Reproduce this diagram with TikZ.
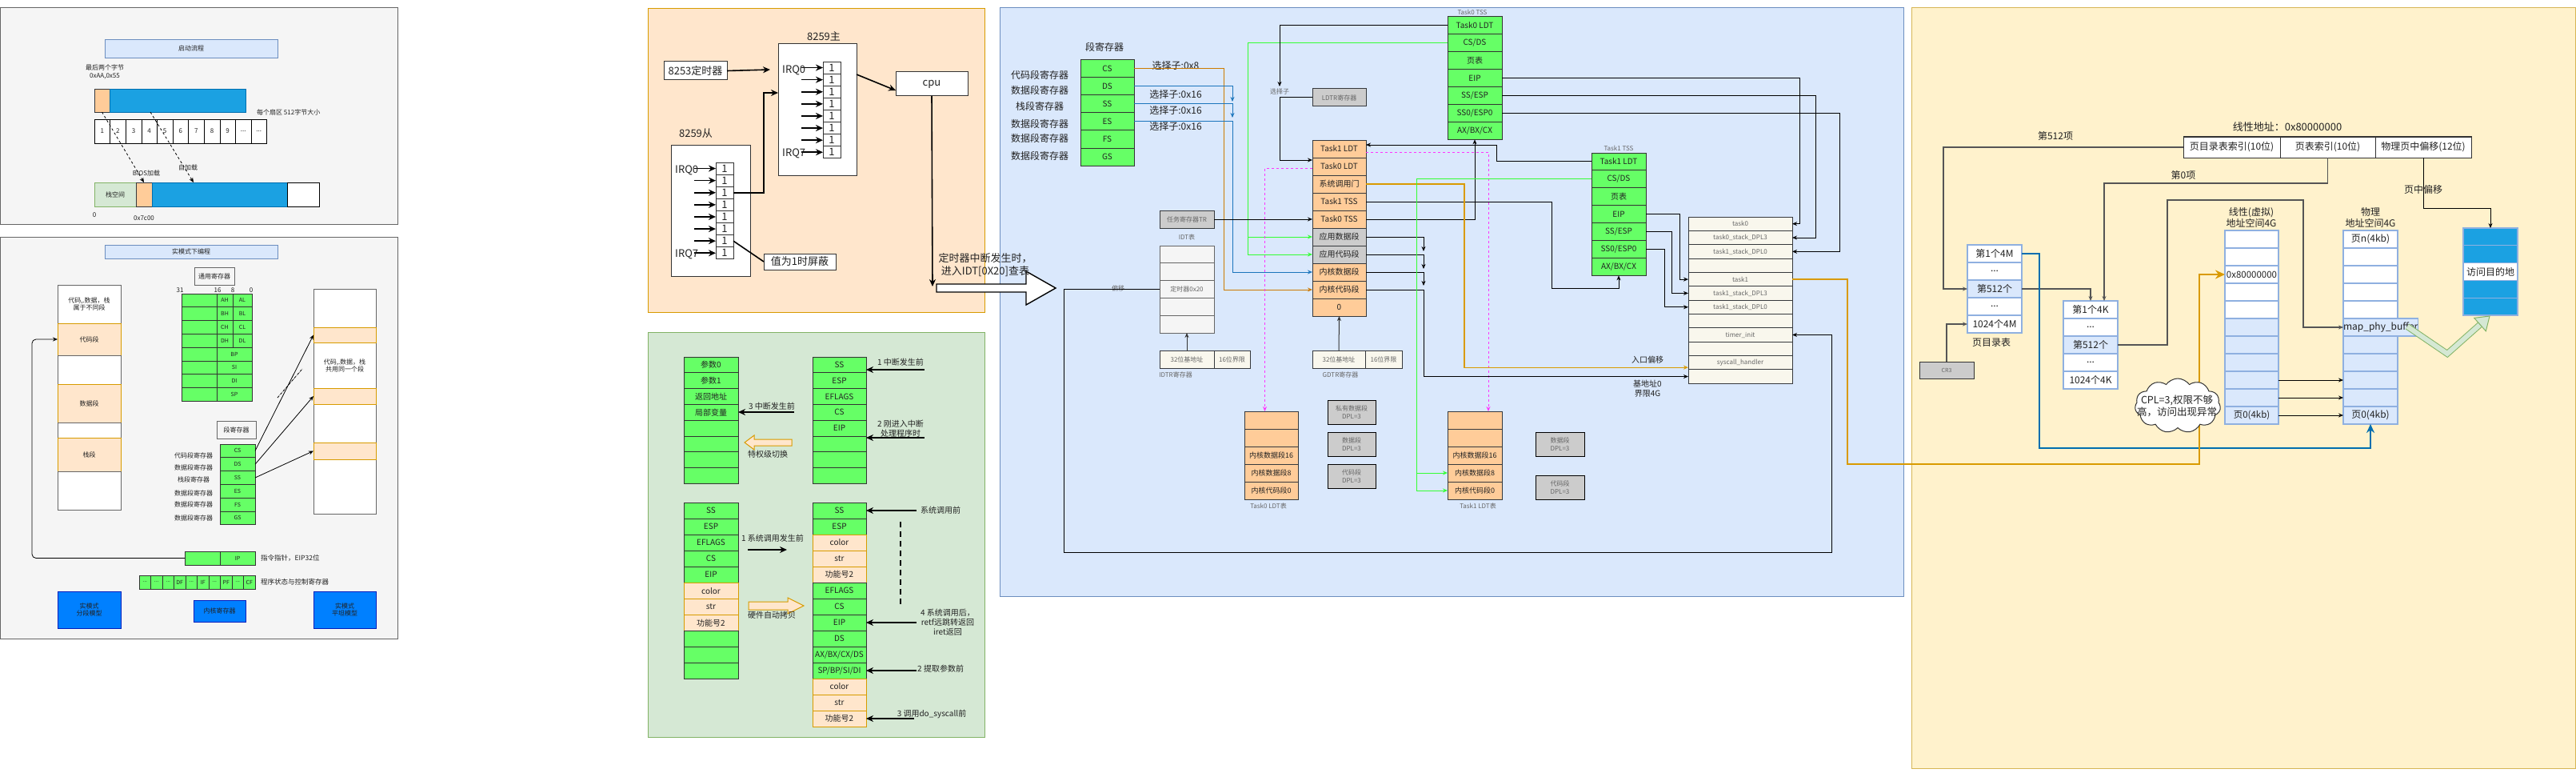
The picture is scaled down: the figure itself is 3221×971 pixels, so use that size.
\documentclass[tikz,border=0pt]{standalone}
\usepackage{fontspec}
\setmainfont{Noto Sans CJK SC}
\usetikzlibrary{arrows.meta, positioning, shapes.symbols}
\definecolor{panelGray}{HTML}{F5F5F5}
\definecolor{panelLine}{HTML}{666666}
\definecolor{titleFill}{HTML}{DAE8FC}
\definecolor{titleLine}{HTML}{6C8EBF}
\definecolor{skyBlue}{HTML}{1BA1E2}
\definecolor{skyLine}{HTML}{006EAF}
\definecolor{peach}{HTML}{FFCC99}
\definecolor{peachLine}{HTML}{36393D}
\definecolor{mint}{HTML}{D5E8D4}
\definecolor{mintLine}{HTML}{82B366}
\definecolor{lime}{HTML}{66FF66}
\definecolor{limeLine}{HTML}{333333}
\definecolor{cream}{HTML}{FFE6CC}
\definecolor{creamLine}{HTML}{D79B00}
\definecolor{royal}{HTML}{0080FF}
\definecolor{royalLine}{HTML}{001DBC}
\definecolor{lightYellow}{HTML}{FFF2CC}
\definecolor{yellowLine}{HTML}{D6B656}
\definecolor{greyCell}{HTML}{CCCCCC}
\definecolor{ivory}{HTML}{F9F7ED}
\definecolor{magLine}{HTML}{FF33FF}
\definecolor{brightGreen}{HTML}{33FF33}
\definecolor{selBrown}{HTML}{CC7A00}
\definecolor{selBlue}{HTML}{1B75BC}
\definecolor{gateOrange}{HTML}{D99A00}
\definecolor{lineGray}{HTML}{555555}
\definecolor{inkGray}{HTML}{222222}
\definecolor{midGray}{HTML}{666666}
\definecolor{pageLine}{HTML}{8FB0E0}
\definecolor{darkLine}{HTML}{333333}
\newcommand{\tdots}{...}

\begin{document}
\begin{tikzpicture}[x=1pt, y=-1pt]
\tikzset{>={Stealth[length=6pt,width=5pt]},
  sz/.style 2 args={minimum width=#1pt, minimum height=#2pt},
  fs/.style={font={\pgfmathsetmacro\lineskp{#1*1.2}\fontsize{#1}{\lineskp}\selectfont}},
  box/.style={draw, rectangle, inner sep=0pt, outer sep=0pt, anchor=north west, align=center, text=inkGray},
  panelbox/.style={box, line width=1pt},
  txt/.style={inner sep=0pt, align=center, text=inkGray},
  arr/.style={->, line width=0.8pt},
  bigarr/.style={-{Stealth[length=9pt,width=8pt]}, line width=1.6pt},
  blkline/.style={->, line width=1pt, draw=black},
  gryline/.style={->, line width=1.2pt, draw=lineGray},
  csline/.style={->, line width=1pt, draw=selBrown},
  dsline/.style={->, line width=1pt, draw=selBlue},
  grnline/.style={->, line width=1pt, draw=brightGreen},
  magline/.style={->, line width=1pt, draw=magLine, dashed},
  gateline/.style={->, line width=1.2pt, draw=gateOrange},
  orangethick/.style={-{Stealth[length=12pt,width=11pt]}, line width=2.5pt, draw=gateOrange},
  bluethick/.style={-{Stealth[length=11pt,width=10pt]}, line width=2pt, draw=skyLine},
  limecell/.style={box, fill=lime, draw=limeLine, line width=1pt}}
\useasboundingbox (0,0) rectangle (3221,971);
\fill[white] (0,0) rectangle (3221,971);

\node[panelbox, fill=panelGray, draw=panelLine, sz={497}{270}] (bootPanel) at (0,10) {};
\node[panelbox, fill=panelGray, draw=panelLine, sz={497}{502}] (realPanel) at (0,296) {};
\node[panelbox, fill=cream, draw=creamLine, sz={421}{379}] (irqPanel) at (810,11) {};
\node[panelbox, fill=mint, draw=mintLine, sz={421}{506}] (stackPanel) at (810,415) {};
\node[panelbox, fill=titleFill, draw=titleLine, sz={1130}{735}] (protPanel) at (1250,10) {};
\node[panelbox, fill=lightYellow, draw=yellowLine, sz={830}{950}] (pagePanel) at (2390,10) {};

\node[box, fill=titleFill, draw=titleLine, sz={216}{23}, fs=8] (bootTitle) at (131,49) {启动流程};
\node[txt, fs=8] (lastTwo) at (131,90) {最后两个字节\\0xAA,0x55};
\node[box, fill=peach, draw=peachLine, sz={19}{29}] (mbrFlag) at (118,111) {};
\node[box, fill=skyBlue, draw=skyLine, sz={170}{29}] (mbrCode) at (137,111) {};
\node[txt, fs=8, anchor=west] (secNote) at (321,140) {每个扇区 512字节大小};
\foreach \lab [count=\i from 0] in {1,2,3,4,5,6,7,8,9,\tdots,\tdots}
  \node[box, fill=white, sz={19.6}{30}, fs=8] (sec\i) at ({118+19.6*\i},149) {\lab};
\node[box, fill=mint, draw=mintLine, sz={52}{30}, fs=8] (stackSpace) at (118,228) {栈空间};
\node[box, fill=peach, draw=peachLine, sz={20}{30}] (mbrLoaded) at (170,228) {};
\node[box, fill=skyBlue, draw=skyLine, sz={169}{30}] (kernLoaded) at (190,228) {};
\node[box, fill=white, sz={40}{30}] (memFree) at (359,228) {};
\node[txt, fs=8] (addrZero) at (118,269) {0};
\node[txt, fs=8] (addrBoot) at (180,273) {0x7c00};
\draw[arr, dashed] (mbrFlag.south) -- (mbrLoaded.north);
\draw[arr, dashed] ([xshift=51pt]mbrCode.south west) -- ([xshift=52pt]kernLoaded.north west);
\node[txt, fs=8] (biosLoad) at (183,216) {BIOS加载};
\node[txt, fs=8] (selfLoad) at (235,209) {自加载};

\node[box, fill=titleFill, draw=titleLine, sz={216}{17}, fs=8] (realTitle) at (131,306) {实模式下编程};
\node[box, fill=panelGray, draw=midGray, line width=1pt, sz={50}{22}, fs=8] (genTitle) at (243,334) {通用寄存器};
\foreach \lab/\xx in {31/225,16/272,8/291,0/314}
  \node[txt, fs=8] (bit\lab) at (\xx,363) {\lab};
\foreach \hi/\lo [count=\i from 0] in {AH/AL,BH/BL,CH/CL,DH/DL} {
  \node[limecell, sz={44}{16.8}] (gpL\i) at (227,{367+16.8*\i}) {};
  \node[limecell, sz={20}{16.8}, fs=7] (gpH\i) at (271,{367+16.8*\i}) {\hi};
  \node[limecell, sz={24}{16.8}, fs=7] (gpLo\i) at (291,{367+16.8*\i}) {\lo};
}
\foreach \lab [count=\i from 4] in {BP,SI,DI,SP} {
  \node[limecell, sz={44}{16.8}] (gpL\i) at (227,{367+16.8*\i}) {};
  \node[limecell, sz={44}{16.8}, fs=7] (gpR\i) at (271,{367+16.8*\i}) {\lab};
}
\node[box, fill=white, draw=panelLine, sz={79}{48}, fs=8] (segTop) at (72,356) {代码,.数据，栈\\属于不同段};
\node[box, fill=cream, draw=creamLine, sz={79}{40}, fs=8] (codeSeg) at (72,404) {代码段};
\node[box, fill=white, draw=panelLine, sz={79}{36}] (segGapA) at (72,444) {};
\node[box, fill=cream, draw=creamLine, sz={79}{48}, fs=8] (dataSeg) at (72,480) {数据段};
\node[box, fill=white, draw=panelLine, sz={79}{19}] (segGapB) at (72,528) {};
\node[box, fill=cream, draw=creamLine, sz={79}{42}, fs=8] (stackSeg) at (72,547) {栈段};
\node[box, fill=white, draw=panelLine, sz={79}{48}] (segGapC) at (72,589) {};
\node[box, fill=white, draw=panelLine, sz={78}{281}] (flatMem) at (392,361) {};
\node[box, fill=cream, draw=creamLine, sz={78}{19}] (flatA) at (392,409) {};
\node[box, fill=cream, draw=creamLine, sz={78}{20}] (flatB) at (392,485) {};
\node[box, fill=cream, draw=creamLine, sz={78}{21}] (flatC) at (392,553) {};
\node[txt, fs=8] (flatNote) at (431,457) {代码,.数据，栈\\共用同一个段};
\node[box, fill=panelGray, draw=midGray, line width=1pt, sz={49}{22}, fs=8] (segTitle) at (271,526) {段寄存器};
\foreach \lab [count=\i from 0] in {CS,DS,SS,ES,FS,GS}
  \node[limecell, sz={44}{16.8}, fs=7] (rm\lab) at (275,{555+16.8*\i}) {\lab};
\foreach \lab/\yy in {代码段寄存器/569,数据段寄存器/584,栈段寄存器/599,数据段寄存器/616,数据段寄存器/630,数据段寄存器/647}
  \node[txt, fs=8] (rmLab\yy) at (242,\yy) {\lab};
\draw[arr] (rmCS.east) -- (flatA.west);
\draw[arr] (rmDS.east) -- (flatB.west);
\draw[arr] (rmSS.east) -- (flatC.west);
\coordinate (dashA) at (347,497);
\coordinate (dashB) at (378,461);
\draw[densely dashdotted, line width=0.8pt] (dashA) -- (dashB);
\node[limecell, sz={44}{17}] (ipLeft) at (231,689) {};
\node[limecell, sz={44}{17}, fs=7] (ipRight) at (275,689) {IP};
\node[txt, fs=8.5, anchor=west] (ipNote) at (326,697) {指令指针，EIP32位};
\draw[arr, rounded corners=5pt] (ipLeft.west) -- ++(-191,0) |- (codeSeg.west);
\foreach \lab [count=\i from 0] in {\tdots,\tdots,\tdots,DF,\tdots,IF,\tdots,PF,\tdots,CF}
  \node[limecell, sz={14.5}{17}, fs=7] (flag\i) at ({174+14.5*\i},719) {\lab};
\node[txt, fs=8.5, anchor=west] (flagNote) at (326,727) {程序状态与控制寄存器};
\node[box, fill=royal, draw=royalLine, sz={79}{46}, fs=8] (segModel) at (72,739) {实模式\\分段模型};
\node[box, fill=royal, draw=royalLine, sz={65}{27}, fs=8] (coreRegs) at (242,750) {内核寄存器};
\node[box, fill=royal, draw=royalLine, sz={78}{46}, fs=8] (flatModel) at (392,739) {实模式\\平坦模型};

\node[txt, fs=13] (masterLab) at (1030,45) {8259主};
\node[box, fill=white, draw=darkLine, line width=1pt, sz={98}{164}] (master) at (973,55) {};
\foreach \i in {0,...,7} {
  \node[box, fill=white, draw=darkLine, line width=0.8pt, sz={22}{15.1}, fs=13] (mq\i) at (1029,{77+15.1*\i}) {1};
  \draw[bigarr] ([xshift=-27pt]mq\i.west) -- (mq\i.west);
}
\node[txt, fs=13, anchor=west] (mIrqA) at (978,88) {IRQ0};
\node[txt, fs=13, anchor=west] (mIrqB) at (978,192) {IRQ7};
\node[box, fill=white, draw=darkLine, line width=1pt, sz={79}{23}, fs=13] (pit) at (830,77) {8253定时器};
\coordinate (pitIn) at (963,87);
\draw[bigarr] (pit.east) -- (pitIn);
\node[txt, fs=13] (slaveLab) at (870,167) {8259从};
\node[box, fill=white, draw=darkLine, line width=1pt, sz={99}{164}] (slave) at (839,181) {};
\foreach \i in {0,...,7} {
  \node[box, fill=white, draw=darkLine, line width=0.8pt, sz={22}{15.1}, fs=13] (sq\i) at (895,{203+15.1*\i}) {1};
  \draw[bigarr] ([xshift=-27pt]sq\i.west) -- (sq\i.west);
}
\node[txt, fs=13, anchor=west] (sIrqA) at (844,213) {IRQ0};
\node[txt, fs=13, anchor=west] (sIrqB) at (844,318) {IRQ7};
\draw[bigarr] (sq2.east) -- ++(38,0) |- ([yshift=21pt]master.west);
\node[box, fill=white, draw=darkLine, line width=1pt, sz={90}{20}, fs=13] (maskNote) at (955,317) {值为1时屏蔽};
\draw[line width=1.6pt] (sq6.east) -- (maskNote.west);
\node[box, fill=white, draw=darkLine, line width=1pt, sz={90}{30}, fs=13] (cpu) at (1120,90) {cpu};
\draw[bigarr] ([yshift=-38pt]master.north east) -- ([yshift=-8pt]cpu.west);
\coordinate (cpuDown) at (1166,358);
\draw[bigarr] (cpu.south) -- (cpuDown);
\draw[line width=1.4pt, fill=white] (1171,355) -- (1283,355) -- (1283,339) -- (1320,360) -- (1283,381) -- (1283,365) -- (1171,365) -- cycle;
\node[txt, fs=13] (idtNote) at (1232,331) {定时器中断发生时，\\进入IDT[0X20]查表};

\foreach \lab [count=\i from 0] in {参数0,参数1,返回地址,局部变量,{},{},{},{}}
  \node[limecell, sz={68}{19.8}, fs=10] (stA\i) at (855,{446+19.8*\i}) {\lab};
\foreach \lab [count=\i from 0] in {SS,ESP,EFLAGS,CS,EIP,{},{},{}}
  \node[limecell, sz={67}{19.8}, fs=10] (stB\i) at (1016,{446+19.8*\i}) {\lab};
\foreach \lab/\col/\lin [count=\i from 0] in {SS/lime/limeLine,ESP/lime/limeLine,EFLAGS/lime/limeLine,CS/lime/limeLine,EIP/lime/limeLine,color/cream/creamLine,str/cream/creamLine,功能号2/cream/creamLine,{}/lime/limeLine,{}/lime/limeLine,{}/lime/limeLine}
  \node[box, fill=\col, draw=\lin, line width=1pt, sz={68}{20.07}, fs=10] (stC\i) at (855,{628+20.07*\i}) {\lab};
\foreach \lab/\col/\lin [count=\i from 0] in {SS/lime/limeLine,ESP/lime/limeLine,color/cream/creamLine,str/cream/creamLine,功能号2/cream/creamLine,EFLAGS/lime/limeLine,CS/lime/limeLine,EIP/lime/limeLine,DS/lime/limeLine,{AX/BX/CX/DS}/lime/limeLine,{SP/BP/SI/DI}/lime/limeLine,color/cream/creamLine,str/cream/creamLine,功能号2/cream/creamLine}
  \node[box, fill=\col, draw=\lin, line width=1pt, sz={67}{20}, fs=10] (stD\i) at (1016,{628+20*\i}) {\lab};
\coordinate (irqPreA) at (993,515);
\draw[bigarr] (irqPreA) -- (irqPreA -| stA3.east);
\node[txt, fs=10] (irqPreALab) at (965,508) {3 中断发生前};
\draw[fill=cream, draw=creamLine, line width=1pt] (931,553) -- (943,544) -- (943,549) -- (990,549) -- (990,557) -- (943,557) -- (943,562) -- cycle;
\node[txt, fs=10] (privLab) at (960,568) {特权级切换};
\coordinate (irqPreB) at (1156,462);
\draw[bigarr] (irqPreB) -- (irqPreB -| stB0.east);
\node[txt, fs=10] (irqPreBLab) at (1126,453) {1 中断发生前};
\coordinate (irqEnter) at (1156,547);
\draw[bigarr] (irqEnter) -- (irqEnter -| stB4.east);
\node[txt, fs=10] (irqEnterLab) at (1126,536) {2 刚进入中断\\处理程序时};
\node[txt, fs=10] (scPreLab) at (966,673) {1 系统调用发生前};
\coordinate (scFrom) at (935,687);
\coordinate (scTo) at (984,687);
\draw[bigarr] (scFrom) -- (scTo);
\draw[fill=cream, draw=creamLine, line width=1pt] (936,752) -- (985,752) -- (985,747) -- (1005,757) -- (985,767) -- (985,762) -- (936,762) -- cycle;
\node[txt, fs=10] (hwCopyLab) at (965,769) {硬件自动拷贝};
\coordinate (sysPre) at (1146,638);
\draw[bigarr] (sysPre) -- (sysPre -| stD0.east);
\node[txt, fs=10, anchor=west] (sysPreLab) at (1151,638) {系统调用前};
\coordinate (dashTop) at (1126,652);
\coordinate (dashBot) at (1126,755);
\draw[line width=2pt, dash pattern=on 7pt off 5pt] (dashTop) -- (dashBot);
\coordinate (sysPost) at (1146,778);
\draw[bigarr] (sysPost) -- (sysPost -| stD7.east);
\node[txt, fs=10] (sysPostLab) at (1185,778) {4 系统调用后，\\retf远跳转返回\\iret返回};
\coordinate (argPre) at (1146,838);
\draw[bigarr] (argPre) -- (argPre -| stD10.east);
\node[txt, fs=10, anchor=west] (argPreLab) at (1147,836) {2 提取参数前};
\coordinate (callPre) at (1143,898);
\draw[bigarr] (callPre) -- (callPre -| stD13.east);
\node[txt, fs=10] (callPreLab) at (1165,892) {3 调用do\_syscall前};

\node[txt, fs=12] (pSegTitle) at (1381,59) {段寄存器};
\foreach \lab [count=\i from 0] in {CS,DS,SS,ES,FS,GS}
  \node[limecell, sz={67}{22}, fs=10] (ps\lab) at (1351,{75+22*\i}) {\lab};
\foreach \lab/\yy in {代码段寄存器/94,数据段寄存器/113,栈段寄存器/133,数据段寄存器/155,数据段寄存器/173,数据段寄存器/195}
  \node[txt, fs=12] (psLab\yy) at (1300,\yy) {\lab};
\node[txt, fs=12] (selCS) at (1470,82) {选择子:0x8};
\node[txt, fs=12] (selDS) at (1470,118) {选择子:0x16};
\node[txt, fs=12] (selSS) at (1470,138) {选择子:0x16};
\node[txt, fs=12] (selES) at (1470,158) {选择子:0x16};
\foreach \lab/\col [count=\i from 0] in {Task1 LDT/peach,Task0 LDT/peach,系统调用门/peach,Task1 TSS/peach,Task0 TSS/peach,应用数据段/greyCell,应用代码段/greyCell,内核数据段/peach,内核代码段/peach,0/peach}
  \node[box, fill=\col, draw=peachLine, line width=1pt, sz={67}{22}, fs=10] (gdt\i) at (1641,{175+22*\i}) {\lab};
\node[box, fill=greyCell, draw=peachLine, line width=1pt, sz={67}{22}, fs=8, text=midGray] (ldtr) at (1641,111) {LDTR寄存器};
\node[txt, fs=8, text=midGray] (selLdt) at (1600,114) {选择子};
\node[box, fill=greyCell, draw=peachLine, line width=1pt, sz={68}{22}, fs=8, text=midGray] (trReg) at (1450,263) {任务寄存器TR};
\node[txt, fs=8, text=midGray] (idtLab) at (1484,296) {IDT表};
\foreach \lab [count=\i from 0] in {{},{},定时器0x20,{},{}}
  \node[box, fill=panelGray, draw=panelLine, line width=1pt, sz={68}{21.8}, fs=8, text=midGray] (idt\i) at (1450,{307+21.8*\i}) {\lab};
\node[box, fill=ivory, draw=peachLine, line width=1pt, sz={68}{22}, fs=8, text=midGray] (idtrBase) at (1450,438) {32位基地址};
\node[box, fill=ivory, draw=peachLine, line width=1pt, sz={45}{22}, fs=8, text=midGray] (idtrLim) at (1518,438) {16位界限};
\node[txt, fs=8, text=midGray] (idtrLab) at (1470,468) {IDTR寄存器};
\node[box, fill=ivory, draw=peachLine, line width=1pt, sz={66}{22}, fs=8, text=midGray] (gdtrBase) at (1641,438) {32位基地址};
\node[box, fill=ivory, draw=peachLine, line width=1pt, sz={46}{22}, fs=8, text=midGray] (gdtrLim) at (1707,438) {16位界限};
\node[txt, fs=8, text=midGray] (gdtrLab) at (1676,468) {GDTR寄存器};
\node[txt, fs=8, text=midGray] (offLab) at (1398,360) {偏移};
\foreach \lab [count=\i from 0] in {{},{},内核数据段16,内核数据段8,内核代码段0}
  \node[box, fill=peach, draw=peachLine, line width=1pt, sz={67}{22}, fs=9] (ldtA\i) at (1556,{514+22*\i}) {\lab};
\node[txt, fs=8, text=midGray] (ldtALab) at (1586,632) {Task0 LDT表};
\node[box, fill=greyCell, draw=black, line width=1pt, sz={60}{30}, fs=8, text=midGray] (privData) at (1660,500) {私有数据段\\DPL=3};
\node[box, fill=greyCell, draw=black, line width=1pt, sz={60}{30}, fs=8, text=midGray] (dplDataA) at (1660,540) {数据段\\DPL=3};
\node[box, fill=greyCell, draw=black, line width=1pt, sz={60}{30}, fs=8, text=midGray] (dplCodeA) at (1660,580) {代码段\\DPL=3};
\foreach \lab [count=\i from 0] in {{},{},内核数据段16,内核数据段8,内核代码段0}
  \node[box, fill=peach, draw=peachLine, line width=1pt, sz={68}{22}, fs=9] (ldtB\i) at (1810,{514+22*\i}) {\lab};
\node[txt, fs=8, text=midGray] (ldtBLab) at (1848,632) {Task1 LDT表};
\node[box, fill=greyCell, draw=black, line width=1pt, sz={61}{30}, fs=8, text=midGray] (dplDataB) at (1920,540) {数据段\\DPL=3};
\node[box, fill=greyCell, draw=black, line width=1pt, sz={61}{30}, fs=8, text=midGray] (dplCodeB) at (1920,594) {代码段\\DPL=3};
\node[txt, fs=8, text=midGray] (tssALab) at (1841,15) {Task0 TSS};
\foreach \lab [count=\i from 0] in {Task0 LDT,CS/DS,页表,EIP,SS/ESP,SS0/ESP0,AX/BX/CX}
  \node[limecell, sz={68}{21.9}, fs=10] (tssA\i) at (1810,{21+21.9*\i}) {\lab};
\node[txt, fs=8, text=midGray] (tssBLab) at (2024,185) {Task1 TSS};
\foreach \lab [count=\i from 0] in {Task1 LDT,CS/DS,页表,EIP,SS/ESP,SS0/ESP0,AX/BX/CX}
  \node[limecell, sz={68}{21.9}, fs=10] (tssB\i) at (1990,{191+21.9*\i}) {\lab};
\foreach \lab [count=\i from 0] in {task0,task0\_stack\_DPL3,task1\_stack\_DPL0,{},task1,task1\_stack\_DPL3,task1\_stack\_DPL0,{},timer\_init,{},syscall\_handler,{}}
  \node[box, fill=ivory, draw=peachLine, line width=1pt, sz={130}{17.35}, fs=8, text=midGray] (task\i) at (2111,{271+17.35*\i}) {\lab};
\draw[csline] (psCS.east) -- ++(112,0) |- (gdt8.west);
\coordinate (selMergeA) at (1541,127);
\coordinate (selMergeB) at (1541,147);
\draw[dsline] (psDS.east) -| (selMergeA);
\draw[dsline] (psSS.east) -| (selMergeB);
\draw[dsline] (psES.east) -- (psES.east -| selMergeA) |- (gdt7.west);
\draw[grnline] (tssA1.west) -- ++(-250,0) |- (gdt6.west);
\coordinate (grnSplitA) at (1560,296);
\draw[grnline] (grnSplitA) -- (gdt5.west);
\coordinate (ldtSel) at (1600,108);
\draw[blkline] (tssA0.west) -| (ldtSel);
\draw[blkline] (ldtr.west) -- ++(-41,0) |- ([yshift=8pt]gdt1.west);
\draw[blkline] (trReg.east) -- (gdt4.west);
\draw[magline] ([yshift=-2pt]gdt1.west) -| ([xshift=-8pt]ldtA0.north);
\draw[magline] ([yshift=-4pt]gdt0.east) -| ([xshift=17pt]ldtB0.north);
\draw[blkline] (tssB0.west) -- ++(-119,0) |- ([yshift=5pt]gdt0.east);
\draw[blkline] (gdt4.east) -| (tssA6.south);
\draw[blkline] (gdt3.east) -- ++(232,0) -- ++(0,108) -| (tssB6.south);
\draw[gateline] (gdt2.east) -- ++(123,0) |- ([yshift=-6pt]task10.west);
\coordinate (appDataTip) at (1780,314);
\coordinate (appCodeTip) at (1780,336);
\coordinate (kDataTip) at (1780,357);
\draw[blkline] (gdt5.east) -| (appDataTip);
\draw[blkline] (gdt6.east) -| (appCodeTip);
\draw[blkline] (gdt7.east) -| (kDataTip);
\draw[blkline] (gdt8.east) -- (gdt8.east -| kDataTip) |- (task11.west);
\node[txt, fs=10] (entryOff) at (2060,450) {入口偏移};
\node[txt, fs=10] (baseLim) at (2060,486) {基地址0\\界限4G};
\draw[blkline] (tssA3.east) -- ++(372,0) |- (task0.east);
\draw[blkline] (tssA4.east) -- ++(392,0) |- (task1.east);
\draw[blkline] (tssA5.east) -- ++(422,0) |- (task2.east);
\draw[blkline] (tssB3.east) -- ++(42,0) |- (task4.west);
\draw[blkline] (tssB4.east) -- ++(32,0) |- (task5.west);
\draw[blkline] (tssB5.east) -- ++(23,0) |- (task6.west);
\draw[grnline] (tssB1.west) -- ++(-219,0) |- (ldtB4.west);
\coordinate (grnSplitB) at (1771,591);
\draw[grnline] (grnSplitB) -- (ldtB3.west);
\draw[line width=1pt, draw=darkLine, ->] (idtrBase.north) -- (idt4.south);
\draw[line width=1pt, draw=darkLine, ->] (gdtrBase.north) -- (gdt9.south);
\coordinate (loopCorner) at (2290,690);
\draw[blkline] (idt2.west) -- ++(-120,0) |- (loopCorner) |- (task8.east);

\node[txt, fs=13] (linAddrLab) at (2860,159) {线性地址：0x80000000};
\node[box, fill=white, draw=darkLine, line width=1pt, sz={121}{26}, fs=12] (dirIdx) at (2730,171) {页目录表索引(10位)};
\node[box, fill=white, draw=darkLine, line width=1pt, sz={119}{26}, fs=12] (tblIdx) at (2851,171) {页表索引(10位)};
\node[box, fill=white, draw=darkLine, line width=1pt, sz={120}{26}, fs=12] (pgOff) at (2970,171) {物理页中偏移(12位)};
\foreach \lab/\col [count=\i from 0] in {第1个4M/white,\tdots/white,第512个/titleFill,\tdots/white,1024个4M/white}
  \node[box, fill=\col, draw=pageLine, line width=1.2pt, sz={68}{22}, fs=12] (pd\i) at (2460,{306+22*\i}) {\lab};
\node[txt, fs=12] (pdLab) at (2490,428) {页目录表};
\node[box, fill=greyCell, draw=darkLine, line width=1pt, sz={68}{21}, fs=7, text=midGray] (cr3) at (2400,452) {CR3};
\foreach \lab/\col [count=\i from 0] in {第1个4K/white,\tdots/white,第512个/titleFill,\tdots/white,1024个4K/white}
  \node[box, fill=\col, draw=pageLine, line width=1.2pt, sz={68}{22}, fs=12] (pt\i) at (2580,{376+22*\i}) {\lab};
\foreach \lab/\col [count=\i from 0] in {{}/white,{}/white,0x80000000/white,{}/white,{}/white,{}/titleFill,{}/titleFill,{}/titleFill,{}/titleFill,{}/titleFill,页0(4kb)/titleFill}
  \node[box, fill=\col, draw=pageLine, line width=1.2pt, sz={67}{22}, fs=11.5] (lin\i) at (2782,{288+22*\i}) {\lab};
\node[txt, fs=12] (linLab) at (2815,272) {线性(虚拟)\\地址空间4G};
\foreach \lab/\col [count=\i from 0] in {页n(4kb)/white,{}/white,{}/white,{}/white,{}/white,map\_phy\_buffer/titleFill,{}/titleFill,{}/titleFill,{}/titleFill,{}/titleFill,页0(4kb)/titleFill}
  \node[box, fill=\col, draw=pageLine, line width=1.2pt, sz={68}{22}, fs=12] (ph\i) at (2930,{288+22*\i}) {\lab};
\node[txt, fs=12] (phLab) at (2964,272) {物理\\地址空间4G};
\foreach \lab/\col [count=\i from 0] in {{}/skyBlue,{}/skyBlue,访问目的地/white,{}/skyBlue,{}/skyBlue}
  \node[box, fill=\col, draw=pageLine, line width=1.2pt, sz={68}{21.8}, fs=12] (dst\i) at (3080,{285+21.8*\i}) {\lab};
\node[txt, fs=12] (item512) at (2570,170) {第512项};
\node[txt, fs=12] (item0) at (2730,219) {第0项};
\node[txt, fs=12] (pgOffLab) at (3030,237) {页中偏移};
\draw[gryline] (dirIdx.west) -- ++(-300,0) |- (pd2.west);
\draw[gryline] (cr3.north) |- (pd4.west);
\draw[gryline] (pd2.east) -| (pt0.north);
\draw[gryline] (tblIdx.south) -- ++(0,32) -| ([xshift=17pt]pt0.north);
\coordinate (pgCorner) at (2880,250);
\draw[gryline] (pt2.east) -- ++(62,0) |- (pgCorner) |- (ph5.west);
\foreach \i in {8,9,10}
  \draw[blkline] (lin\i.east) -- (ph\i.west);
\draw[blkline] (pgOff.south) -- ++(0,63) -| (dst0.north);
\coordinate (blueCorner) at (2550,560);
\draw[bluethick] (pd0.east) -| (blueCorner) -| (ph10.south);
\coordinate (orangeCorner) at (2750,580);
\draw[orangethick] (task4.east) -- ++(69,0) |- (orangeCorner) |- (lin2.west);
\coordinate (bufA) at (3010,408);
\coordinate (bufB) at (3060,442);
\coordinate (bufC) at (3101,405.6);
\draw[draw=mintLine, double=mint, double distance=6pt, line width=1pt] (bufA) -- (bufB) -- (bufC);
\draw[draw=mintLine, fill=mint, line width=1pt] (3113,395) -- (3108.3,413.8) -- (3093.7,397.4) -- cycle;
\node[cloud, draw=darkLine, fill=white, line width=1pt, cloud puffs=11, cloud puff arc=110, aspect=1.6, minimum width=107pt, minimum height=68pt, inner sep=0pt] (cplCloud) at (2723,507) {};
\node[txt, fs=12.5] (cplNote) at (2722,507) {CPL=3,权限不够\\高，访问出现异常};
\end{tikzpicture}
\end{document}
